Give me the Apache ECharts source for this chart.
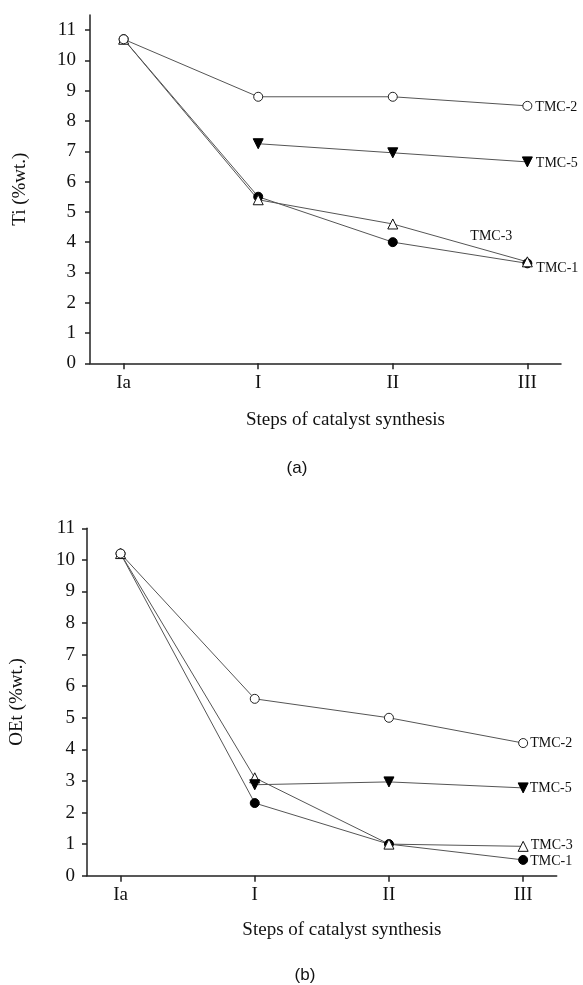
<!DOCTYPE html>
<html><head><meta charset="utf-8">
<script src="https://cdn.jsdelivr.net/npm/echarts@6/dist/echarts.min.js"></script>
<style>html,body{margin:0;padding:0;background:#fff}#c{width:583px;height:985px}</style>
</head><body><div id="c"></div>
<script>
// ---- data ----
const steps = ['Ia', 'I', 'II', 'III'];
const stepPos = [0, 1, 2, 3];
const yTicks = [0, 1, 2, 3, 4, 5, 6, 7, 8, 9, 10, 11];
const seriesNames = ['TMC-1', 'TMC-3', 'TMC-5', 'TMC-2'];
// (a) Ti, %wt.
const ti_TMC1 = [10.7, 5.5, 4.0, 3.3];
const ti_TMC3 = [10.7, 5.4, 4.6, 3.35];
const ti_TMC5 = [null, 7.25, 6.95, 6.65];
const ti_TMC2 = [10.7, 8.8, 8.8, 8.5];
// (b) OEt, %wt.
const oet_TMC1 = [10.2, 2.3, 1.0, 0.5];
const oet_TMC3 = [10.2, 3.1, 1.0, 0.93];
const oet_TMC5 = [null, 2.88, 2.97, 2.78];
const oet_TMC2 = [10.2, 5.6, 5.0, 4.2];

// ---- styles ----
const SERIF = 'Liberation Serif, Times New Roman, serif';
const symbolStyle = {
  'TMC-1': {symbol: 'circle', symbolSize: 9, symbolRotate: 0, itemStyle: {color: '#000', borderColor: '#000', borderWidth: 1}},
  'TMC-3': {symbol: 'triangle', symbolSize: 10, symbolRotate: 0, itemStyle: {color: '#fff', borderColor: '#111', borderWidth: 1}},
  'TMC-5': {symbol: 'triangle', symbolSize: 10, symbolRotate: 180, itemStyle: {color: '#000', borderColor: '#000', borderWidth: 1}},
  'TMC-2': {symbol: 'circle', symbolSize: 9, symbolRotate: 0, itemStyle: {color: '#fff', borderColor: '#222', borderWidth: 1}}
};
const labelStyleA = {
  'TMC-1': {position: 'right', distance: 4, offset: [0, 5]},
  'TMC-3': {position: 'inside', offset: [-36, -26]},
  'TMC-5': {position: 'right', distance: 3, offset: [0, 1]},
  'TMC-2': {position: 'right', distance: 3, offset: [0, 1]}
};
const labelStyleB = {
  'TMC-1': {position: 'right', distance: 2, offset: [0, 1]},
  'TMC-3': {position: 'right', distance: 2, offset: [0, -1]},
  'TMC-5': {position: 'right', distance: 1, offset: [0, 0]},
  'TMC-2': {position: 'right', distance: 2, offset: [0, 0]}
};

function makeSeries(name, values, gridIdx, labelCfg) {
  const pts = [];
  values.forEach((v, i) => { if (v !== null) pts.push({value: [stepPos[i], v]}); });
  const last = pts[pts.length - 1];
  last.label = Object.assign({show: true, formatter: name, color: '#111', fontFamily: SERIF, fontSize: 14}, labelCfg);
  const s = symbolStyle[name];
  return {
    name, type: 'line', xAxisIndex: gridIdx, yAxisIndex: gridIdx,
    data: pts, symbol: s.symbol, symbolSize: s.symbolSize, symbolRotate: s.symbolRotate,
    showAllSymbol: true, itemStyle: s.itemStyle,
    lineStyle: {color: '#555', width: 1}, emphasis: {disabled: true}, animation: false, z: 3
  };
}

function xAxis(gridIdx, nameGap) {
  return {
    gridIndex: gridIdx, type: 'value', min: -0.25, max: 3.25,
    name: 'Steps of catalyst synthesis', nameLocation: 'middle', nameGap: nameGap,
    nameTextStyle: {fontFamily: SERIF, fontSize: 19, color: '#111', padding: [0, 0, 0, 40]},
    axisLine: {onZero: false, lineStyle: {color: '#222', width: 1.5}},
    axisTick: {show: true, inside: false, length: 6, customValues: stepPos, lineStyle: {color: '#222', width: 1.5}},
    axisLabel: {customValues: stepPos, margin: 10, fontFamily: SERIF, fontSize: 19, color: '#111',
      formatter: v => steps[stepPos.indexOf(v)] || ''},
    splitLine: {show: false}
  };
}
function yAxis(gridIdx, name, max, margin) {
  return {
    gridIndex: gridIdx, type: 'value', min: 0, max: max,
    name: name, nameLocation: 'middle', nameGap: 60, nameRotate: 90,
    nameTextStyle: {fontFamily: SERIF, fontSize: 19, color: '#111'},
    axisLine: {show: true, onZero: false, lineStyle: {color: '#222', width: 1.5}},
    axisTick: {show: true, inside: false, length: 5, customValues: yTicks, lineStyle: {color: '#222', width: 1.5}},
    axisLabel: {customValues: yTicks, margin: margin, fontFamily: SERIF, fontSize: 19, color: '#111'},
    splitLine: {show: false}
  };
}

const tiData = {'TMC-1': ti_TMC1, 'TMC-3': ti_TMC3, 'TMC-5': ti_TMC5, 'TMC-2': ti_TMC2};
const oetData = {'TMC-1': oet_TMC1, 'TMC-3': oet_TMC3, 'TMC-5': oet_TMC5, 'TMC-2': oet_TMC2};

const series = [];
seriesNames.forEach(n => series.push(makeSeries(n, tiData[n], 0, labelStyleA[n])));
seriesNames.forEach(n => series.push(makeSeries(n, oetData[n], 1, labelStyleB[n])));

const chart = echarts.init(document.getElementById('c'), null, {renderer: 'canvas'});
chart.setOption({
  backgroundColor: '#fff',
  animation: false,
  title: [
    {text: '(a)', left: 292, top: 455, textAlign: 'center',
      textStyle: {fontFamily: 'Liberation Sans, Arial, sans-serif', fontSize: 17, fontWeight: 'normal', color: '#111'}},
    {text: '(b)', left: 300, top: 962, textAlign: 'center',
      textStyle: {fontFamily: 'Liberation Sans, Arial, sans-serif', fontSize: 17, fontWeight: 'normal', color: '#111'}}
  ],
  grid: [
    {left: 90, top: 15, width: 471, height: 348.3},
    {left: 86.7, top: 528.3, width: 470, height: 347.4}
  ],
  xAxis: [xAxis(0, 47), xAxis(1, 45)],
  yAxis: [yAxis(0, 'Ti (%wt.)', 11.5, 14), yAxis(1, 'OEt (%wt.)', 11, 12)],
  series
});
</script></body></html>
